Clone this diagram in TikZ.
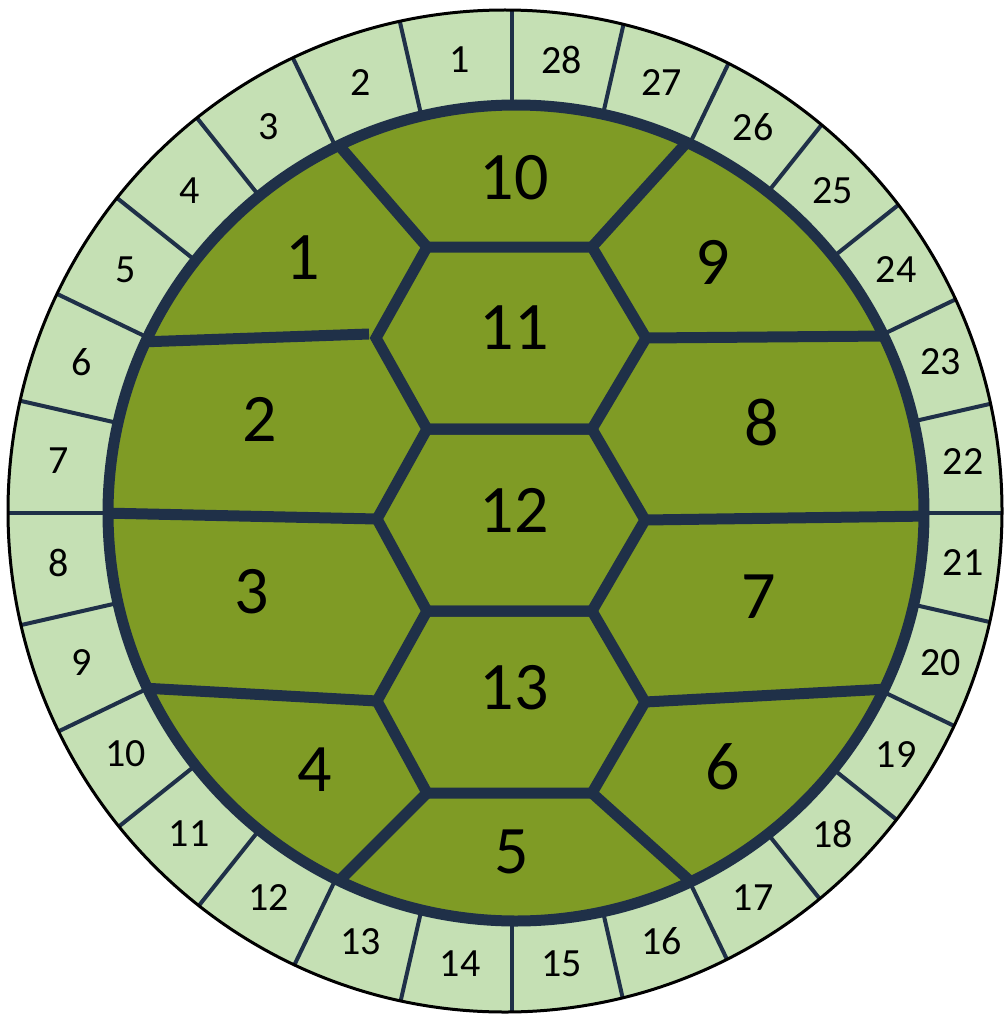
\documentclass[tikz,border=0pt]{standalone}
\usepackage{fontspec}
\setmainfont{Carlito}
\usetikzlibrary{calc}
\definecolor{ringfill}{HTML}{C5E0B4}
\definecolor{shellfill}{HTML}{7F9B25}
\definecolor{edgecol}{HTML}{1F3048}
\begin{document}
\begin{tikzpicture}[x=1pt,y=-1pt,
  plateline/.style={draw=edgecol, line width=11pt, line join=miter},
  divider/.style={draw=edgecol, line width=4pt},
  smalllbl/.style={font=\fontsize{40}{40}\selectfont, inner sep=0pt},
  biglbl/.style={font=\fontsize{68}{68}\selectfont, inner sep=0pt}]
\useasboundingbox (0,0) rectangle (1005,1014);
\coordinate (oc) at (505,511);
\coordinate (ic) at (516,513);
\coordinate (dc) at (512,513);
\coordinate (lc) at (511,512);
% outer ring
\fill[ringfill] (oc) ellipse [x radius=497, y radius=501];
\begin{scope}
  \clip (oc) ellipse [x radius=497, y radius=501];
  \foreach \k in {0,...,27}
    \draw[divider] ($(dc)+({90+\k*360/28}:380)$) -- ($(dc)+({90+\k*360/28}:560)$);
\end{scope}
\draw[black, line width=3pt] (oc) ellipse [x radius=497, y radius=501];
% ring labels
\foreach \k in {1,...,28}
  \node[smalllbl] (r\k) at ($(lc)+({-90-(\k-0.5)*360/28}:455)$) {\k};
% shell disk
\fill[shellfill] (ic) circle [radius=408];
% hexagon vertices
\coordinate (a1) at (427,247); \coordinate (a2) at (592,247);
\coordinate (b1) at (376,338); \coordinate (b2) at (646,338);
\coordinate (c1) at (427,429); \coordinate (c2) at (592,429);
\coordinate (d1) at (377,519); \coordinate (d2) at (645,520);
\coordinate (e1) at (427,611); \coordinate (e2) at (592,611);
\coordinate (f1) at (377,701); \coordinate (f2) at (645,702);
\coordinate (g1) at (427,793); \coordinate (g2) at (592,793);
% rim points
\coordinate (t1) at (336,142); \coordinate (t2) at (689,140);
\coordinate (u1) at (140,342); \coordinate (u2) at (888,336);
\coordinate (v1) at (102,513); \coordinate (v2) at (930,516);
\coordinate (w1) at (142,688); \coordinate (w2) at (888,689);
\coordinate (z1) at (339,881); \coordinate (z2) at (690,881);
\coordinate (n1) at (369,334);
\begin{scope}
  \clip (ic) circle [radius=408];
  \draw[plateline] (t1) -- (a1);
  \draw[plateline] (t2) -- (a2);
  \draw[plateline] (u1) -- (n1);
  \draw[plateline] (u2) -- (b2);
  \draw[plateline] (v1) -- (d1);
  \draw[plateline] (v2) -- (d2);
  \draw[plateline] (w1) -- (f1);
  \draw[plateline] (w2) -- (f2);
  \draw[plateline] (z1) -- (g1);
  \draw[plateline] (z2) -- (g2);
\end{scope}
\draw[plateline] (a1) -- (a2) -- (b2) -- (c2) -- (c1) -- (b1) -- cycle;
\draw[plateline] (c1) -- (c2) -- (d2) -- (e2) -- (e1) -- (d1) -- cycle;
\draw[plateline] (e1) -- (e2) -- (f2) -- (g2) -- (g1) -- (f1) -- cycle;
\draw[edgecol, line width=11pt] (ic) circle [radius=408];
% plate labels
\node[biglbl] (p1) at (303,258) {1};
\node[biglbl] (p2) at (260,419) {2};
\node[biglbl] (p3) at (252,592) {3};
\node[biglbl] (p4) at (315,770) {4};
\node[biglbl] (p5) at (512,852) {5};
\node[biglbl] (p6) at (723,767) {6};
\node[biglbl] (p7) at (759,597) {7};
\node[biglbl] (p8) at (762,423) {8};
\node[biglbl] (p9) at (713,262) {9};
\node[biglbl] (p10) at (514,178) {10};
\node[biglbl] (p11) at (514,328) {11};
\node[biglbl] (p12) at (514,510) {12};
\node[biglbl] (p13) at (514,688) {13};
\end{tikzpicture}
\end{document}
